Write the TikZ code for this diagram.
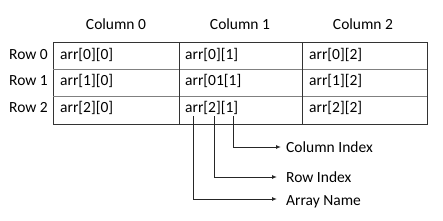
\documentclass[tikz,border=0pt]{standalone}
\usepackage{fontspec}
\setmainfont{Carlito}
\usetikzlibrary{arrows.meta}
\begin{document}
\begin{tikzpicture}[x=1pt,y=-1pt,
  txt/.style={inner sep=0pt,font=\fontsize{15.5}{18}\selectfont},
  cell/.style={txt,anchor=west},
  grid/.style={line width=1pt,draw=black!80},
  pointer/.style={line width=1pt,draw=black!85,-{Latex[length=5pt,width=4pt]}}]
\useasboundingbox (0,0) rectangle (443,220);
% grid
\draw[grid] (53,42) rectangle (427,124);
\draw[grid,draw=black!50] (53,69) -- (427,69) (53,96) -- (427,96);
\draw[grid] (179,42) -- (179,124) (302,42) -- (302,124);
% headers
\node[txt] (c0) at (116,24) {Column 0};
\node[txt] (c1) at (240,24) {Column 1};
\node[txt] (c2) at (363,24) {Column 2};
\node[txt,anchor=east] (r0) at (48,55) {Row 0};
\node[txt,anchor=east] (r1) at (48,81) {Row 1};
\node[txt,anchor=east] (r2) at (48,108) {Row 2};
% cells
\node[cell] (a00) at (60,55) {arr[0][0]};
\node[cell] (a01) at (185,55) {arr[0][1]};
\node[cell] (a02) at (309,55) {arr[0][2]};
\node[cell] (a10) at (60,81) {arr[1][0]};
\node[cell] (a11) at (185,81) {arr[01[1]};
\node[cell] (a12) at (309,81) {arr[1][2]};
\node[cell] (a20) at (60,108) {arr[2][0]};
\node[cell] (a21) at (185,108) {arr[2][1]};
\node[cell] (a22) at (309,108) {arr[2][2]};
% labels
\node[cell] (ci) at (286,147) {Column Index};
\node[cell] (ri) at (286,177) {Row Index};
\node[cell] (an) at (286,202) {Array Name};
% pointers
\coordinate (p1) at (233,116);
\coordinate (p2) at (214,116);
\coordinate (p3) at (193,116);
\draw[pointer] (p1) |- ([xshift=-5pt]ci.west);
\draw[pointer] (p2) |- ([xshift=-9pt,yshift=0pt]ri.west);
\draw[pointer] (p3) |- ([xshift=-9pt]an.west |- 0,199);
\end{tikzpicture}
\end{document}
